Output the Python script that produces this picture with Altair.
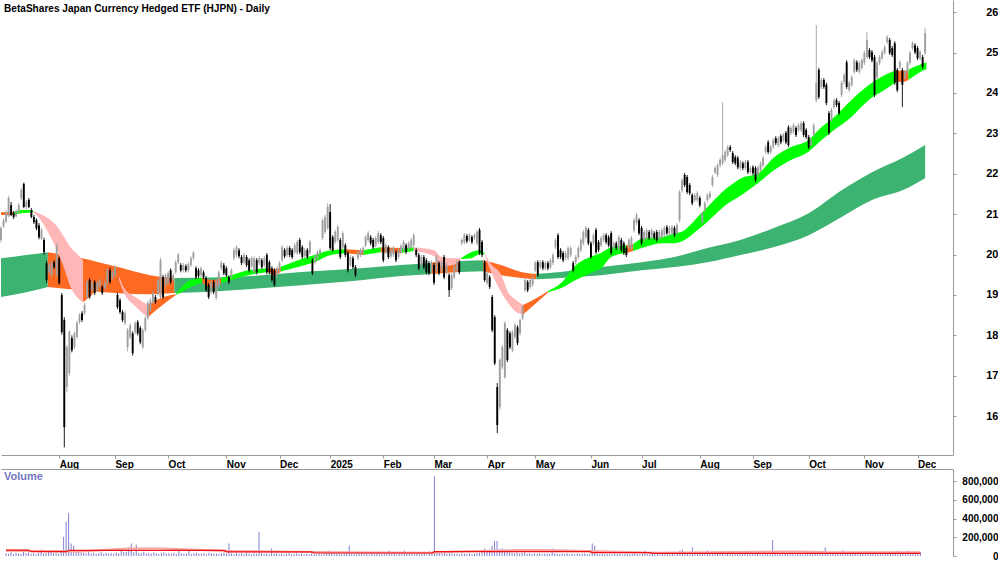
import json
import altair as alt
import pandas as pd

title_text = "BetaShares Japan Currency Hedged ETF (HJPN) - Daily"

month_idx = [23, 45, 66, 89, 110, 130, 151, 171, 192, 211, 233, 253, 276, 297, 319, 341, 362]
month_lbl = ["Aug", "Sep", "Oct", "Nov", "Dec", "2025", "Feb", "Mar", "Apr", "May", "Jun",
             "Jul", "Aug", "Sep", "Oct", "Nov", "Dec"]
price_ticks = [16, 17, 18, 19, 20, 21, 22, 23, 24, 25, 26]
vol_ticks = [0, 200000, 400000, 600000, 800000]

opens = [
    20.36, 20.70, 20.82, 20.95, 21.22, 21.02, 20.95, 21.05, 21.40, 21.75,
    21.18, 21.35, 21.10, 20.93, 20.85, 20.72, 20.40, 20.36, 19.79, 19.57,
    19.49, 19.81, 19.49, 19.91, 19.00, 18.38, 16.72, 17.07, 17.93, 17.71,
    17.96, 18.33, 18.55, 18.55, 18.95, 19.37, 19.12, 19.32, 19.12, 19.22,
    19.20, 19.17, 19.30, 19.61, 19.42, 19.49, 19.00, 18.87, 18.58, 18.30,
    17.71, 17.96, 18.05, 18.08, 18.33, 18.18, 17.71, 18.13, 18.43, 18.62,
    18.83, 18.95, 19.05, 18.95, 19.44, 19.25, 19.30, 19.61, 19.37, 19.57,
    19.81, 19.74, 19.61, 19.71, 19.61, 19.74, 19.91, 19.66, 19.61, 19.49,
    19.56, 19.42, 19.25, 19.07, 19.32, 18.93, 19.20, 19.66, 19.74, 19.66,
    19.44, 19.44, 19.91, 19.99, 20.11, 19.94, 19.81, 19.94, 19.86, 19.71,
    19.56, 19.86, 19.79, 19.86, 19.74, 19.99, 19.81, 19.66, 19.61, 19.49,
    19.61, 19.86, 20.11, 19.99, 20.16, 20.11, 20.06, 20.04, 20.36, 20.18,
    19.96, 20.11, 20.04, 19.86, 19.81, 19.91, 20.04, 20.41, 20.56, 20.66,
    21.05, 20.43, 20.31, 20.36, 20.36, 20.18, 20.23, 20.04, 19.74, 19.91,
    19.69, 19.91, 19.99, 20.06, 20.23, 20.36, 20.43, 20.36, 20.23, 20.31,
    20.48, 20.41, 20.06, 20.18, 19.96, 19.99, 20.06, 19.94, 20.06, 20.11,
    20.23, 20.16, 20.18, 20.23, 20.11, 19.99, 19.74, 19.94, 19.86, 19.79,
    19.61, 19.74, 19.61, 19.79, 19.61, 19.94, 19.56, 19.49, 19.17, 19.44,
    19.61, 19.81, 20.28, 20.31, 20.46, 20.36, 20.43, 20.41, 20.28, 20.61,
    20.31, 19.81, 19.30, 19.44, 18.95, 18.45, 16.72, 16.22, 17.21, 16.97,
    18.13, 18.05, 17.63, 17.96, 18.20, 18.05, 18.43, 19.12, 19.32, 19.20,
    19.25, 19.61, 19.81, 19.69, 19.81, 19.66, 19.79, 19.69, 19.79, 20.18,
    20.48, 20.11, 20.04, 19.91, 19.91, 19.99, 19.79, 19.81, 19.94, 20.11,
    20.28, 20.43, 20.61, 20.28, 20.28, 20.61, 20.31, 20.23, 20.36, 20.48,
    20.43, 20.53, 20.16, 20.28, 20.16, 20.36, 20.28, 20.16, 20.18, 20.16,
    20.60, 20.78, 20.85, 20.66, 20.36, 20.41, 20.56, 20.43, 20.53, 20.56,
    20.41, 20.43, 20.48, 20.68, 20.51, 20.53, 20.66, 20.53, 20.85, 21.59,
    21.97, 21.92, 21.72, 21.47, 21.35, 21.35, 21.40, 20.80, 21.10, 21.35,
    21.42, 21.72, 22.04, 21.97, 22.21, 22.26, 22.34, 22.46, 22.66, 22.51,
    22.41, 22.39, 22.14, 22.26, 22.14, 22.29, 22.04, 22.16, 22.14, 21.97,
    22.09, 22.21, 22.54, 22.78, 22.54, 22.66, 22.88, 22.71, 22.93, 22.83,
    23.01, 23.15, 23.01, 23.03, 23.13, 23.08, 23.08, 23.25, 23.08, 22.91,
    22.71, 22.96, 23.82, 24.57, 24.15, 24.32, 24.20, 23.50, 23.33, 23.65,
    23.82, 23.75, 23.95, 24.27, 24.76, 24.07, 24.20, 24.52, 24.76, 24.52,
    24.62, 24.74, 24.89, 25.06, 25.01, 24.89, 24.39, 24.74, 24.86, 24.99,
    25.26, 25.31, 25.11, 25.23, 24.57, 24.64, 24.57, 24.37, 24.52, 24.74,
    25.11, 25.18, 25.11, 24.86, 24.89, 24.99,
]
highs = [
    20.70, 20.90, 21.10, 21.45, 21.30, 21.08, 21.12, 21.28, 21.65, 21.78,
    21.35, 21.40, 21.15, 20.98, 20.90, 20.78, 20.66, 20.42, 19.85, 19.80,
    19.85, 19.86, 20.28, 19.95, 19.05, 18.45, 17.76, 18.13, 18.00, 18.10,
    18.36, 18.55, 18.60, 18.80, 19.37, 19.42, 19.35, 19.37, 19.35, 19.40,
    19.25, 19.35, 19.66, 19.68, 19.62, 19.74, 19.05, 18.92, 18.63, 18.60,
    18.18, 18.30, 18.10, 18.35, 18.38, 18.23, 18.18, 18.48, 18.85, 18.92,
    19.10, 19.00, 19.42, 19.92, 19.50, 19.54, 19.59, 19.66, 19.54, 19.86,
    20.04, 19.79, 19.79, 19.76, 19.81, 19.96, 20.09, 19.71, 19.66, 19.71,
    19.61, 19.47, 19.30, 19.35, 19.37, 19.37, 19.61, 19.84, 19.79, 19.71,
    19.49, 19.66, 20.16, 20.23, 20.16, 19.99, 20.04, 19.99, 19.91, 19.96,
    19.96, 19.91, 19.96, 19.91, 19.96, 20.04, 19.86, 19.71, 19.66, 19.71,
    19.84, 20.23, 20.16, 20.21, 20.21, 20.16, 20.28, 20.36, 20.41, 20.23,
    20.16, 20.16, 20.36, 19.91, 19.99, 20.11, 20.16, 20.90, 20.98, 21.27,
    21.25, 20.48, 20.61, 20.73, 20.41, 20.58, 20.28, 20.09, 19.99, 19.96,
    19.74, 20.11, 20.16, 20.21, 20.48, 20.58, 20.48, 20.41, 20.46, 20.58,
    20.53, 20.46, 20.28, 20.23, 20.16, 20.21, 20.11, 20.16, 20.26, 20.36,
    20.28, 20.33, 20.41, 20.53, 20.16, 20.04, 19.99, 19.99, 19.91, 19.84,
    19.86, 19.79, 19.99, 19.84, 19.86, 19.99, 19.79, 19.54, 19.54, 19.74,
    19.86, 19.86, 20.41, 20.53, 20.51, 20.53, 20.48, 20.53, 20.61, 20.66,
    20.36, 19.86, 19.59, 19.49, 19.00, 18.50, 16.82, 17.44, 17.76, 18.35,
    18.18, 18.10, 18.13, 18.30, 18.25, 18.43, 18.75, 19.42, 19.37, 19.42,
    19.49, 19.84, 19.86, 19.86, 19.86, 19.84, 19.84, 19.91, 20.04, 20.41,
    20.53, 20.16, 20.09, 20.09, 20.21, 20.21, 19.84, 19.99, 20.21, 20.41,
    20.61, 20.71, 20.66, 20.33, 20.53, 20.66, 20.36, 20.46, 20.53, 20.53,
    20.48, 20.58, 20.33, 20.33, 20.48, 20.41, 20.33, 20.21, 20.41, 20.46,
    20.90, 21.03, 20.90, 20.71, 20.61, 20.65, 20.61, 20.65, 20.58, 20.61,
    20.61, 20.65, 20.71, 20.73, 20.71, 20.73, 20.71, 20.78, 21.60, 21.89,
    22.02, 21.97, 21.77, 21.52, 21.52, 21.57, 21.45, 21.07, 21.32, 21.52,
    21.57, 21.97, 22.19, 22.26, 22.39, 23.77, 22.59, 22.71, 22.71, 22.56,
    22.46, 22.44, 22.34, 22.31, 22.34, 22.34, 22.19, 22.21, 22.19, 22.21,
    22.31, 22.44, 22.71, 22.83, 22.71, 22.88, 22.93, 22.93, 22.98, 23.01,
    23.06, 23.20, 23.18, 23.25, 23.18, 23.25, 23.30, 23.30, 23.13, 22.96,
    22.88, 23.25, 25.68, 24.62, 24.37, 24.37, 24.25, 23.55, 23.63, 23.87,
    23.87, 23.80, 24.30, 24.49, 24.81, 24.30, 24.44, 24.86, 24.81, 24.79,
    24.86, 25.04, 25.51, 25.11, 25.06, 24.94, 24.79, 24.94, 25.06, 25.18,
    25.43, 25.36, 25.16, 25.28, 24.62, 24.81, 24.62, 24.57, 24.79, 25.04,
    25.28, 25.23, 25.16, 25.06, 24.94, 25.60,
]
lows = [
    20.30, 20.66, 20.78, 20.92, 20.95, 20.88, 20.92, 21.02, 21.35, 21.15,
    21.12, 21.15, 20.90, 20.76, 20.60, 20.38, 20.36, 20.00, 19.30, 19.52,
    19.44, 19.64, 19.45, 19.25, 18.02, 15.23, 16.60, 17.00, 17.58, 17.66,
    17.92, 18.28, 18.33, 18.50, 18.90, 18.90, 19.07, 19.00, 19.08, 19.18,
    19.00, 19.12, 19.25, 19.28, 19.38, 19.44, 18.65, 18.53, 18.33, 18.26,
    17.60, 17.90, 17.50, 18.03, 18.00, 17.78, 17.66, 18.08, 18.38, 18.58,
    18.78, 18.78, 19.00, 18.90, 18.90, 19.20, 19.25, 19.27, 19.32, 19.52,
    19.76, 19.56, 19.56, 19.56, 19.56, 19.69, 19.86, 19.39, 19.42, 19.44,
    19.39, 19.07, 18.90, 19.02, 19.02, 18.88, 19.15, 19.61, 19.49, 19.44,
    19.27, 19.39, 19.86, 19.94, 19.91, 19.74, 19.76, 19.69, 19.56, 19.66,
    19.51, 19.51, 19.74, 19.64, 19.69, 19.51, 19.51, 19.32, 19.20, 19.44,
    19.56, 19.81, 19.91, 19.94, 19.94, 19.89, 20.01, 19.99, 20.01, 19.89,
    19.91, 19.89, 19.99, 19.49, 19.76, 19.86, 19.99, 20.36, 20.51, 20.61,
    20.11, 20.06, 20.26, 20.31, 19.89, 20.13, 19.94, 19.56, 19.69, 19.64,
    19.44, 19.86, 19.94, 20.01, 20.18, 20.31, 20.23, 20.13, 20.18, 20.26,
    20.26, 19.81, 20.01, 19.89, 19.91, 19.94, 19.81, 19.89, 20.01, 20.06,
    20.01, 20.11, 20.13, 20.18, 19.94, 19.61, 19.69, 19.64, 19.51, 19.49,
    19.56, 19.25, 19.56, 19.49, 19.56, 19.39, 19.51, 18.95, 19.12, 19.39,
    19.56, 19.51, 20.23, 20.26, 20.28, 20.31, 20.26, 20.36, 20.23, 19.99,
    19.94, 19.32, 19.25, 19.15, 18.08, 17.26, 15.58, 16.15, 17.16, 16.92,
    17.34, 17.66, 17.58, 17.91, 17.76, 18.00, 18.38, 19.07, 19.07, 19.15,
    19.20, 19.56, 19.44, 19.64, 19.61, 19.61, 19.61, 19.64, 19.74, 20.13,
    19.89, 19.89, 19.81, 19.86, 19.86, 19.94, 19.56, 19.76, 19.89, 20.06,
    20.23, 20.38, 20.23, 19.89, 20.23, 20.01, 20.06, 20.18, 20.31, 20.26,
    20.18, 19.99, 20.11, 20.11, 20.11, 20.06, 19.99, 19.94, 20.13, 20.11,
    20.55, 20.73, 20.48, 20.23, 20.31, 20.36, 20.36, 20.38, 20.36, 20.31,
    20.36, 20.38, 20.43, 20.48, 20.46, 20.48, 20.43, 20.48, 20.80, 21.54,
    21.67, 21.50, 21.47, 21.22, 21.30, 21.30, 21.17, 20.75, 21.05, 21.30,
    21.37, 21.67, 21.99, 21.92, 22.16, 22.21, 22.29, 22.41, 22.54, 22.24,
    22.21, 22.11, 22.09, 22.09, 22.09, 21.99, 21.99, 21.96, 21.79, 21.92,
    22.04, 22.16, 22.49, 22.49, 22.49, 22.61, 22.71, 22.66, 22.73, 22.78,
    22.73, 22.66, 22.96, 22.98, 22.91, 23.03, 23.03, 22.91, 22.86, 22.61,
    22.66, 22.91, 23.77, 23.85, 24.10, 24.10, 23.70, 22.96, 23.28, 23.60,
    23.65, 23.45, 23.90, 24.22, 24.10, 24.02, 24.15, 24.47, 24.52, 24.47,
    24.57, 24.69, 24.84, 24.84, 24.76, 23.90, 24.34, 24.69, 24.81, 24.94,
    25.21, 24.94, 24.89, 24.20, 24.02, 24.59, 23.65, 24.32, 24.47, 24.69,
    25.06, 24.96, 24.81, 24.81, 24.59, 24.94,
]
closes = [
    20.66, 20.85, 21.05, 21.40, 20.98, 20.93, 21.08, 21.22, 21.60, 21.18,
    21.30, 21.18, 20.93, 20.80, 20.65, 20.43, 20.60, 20.06, 19.37, 19.74,
    19.79, 19.69, 20.23, 19.30, 18.08, 15.73, 17.71, 18.08, 17.63, 18.05,
    18.30, 18.50, 18.38, 18.75, 19.32, 18.95, 19.30, 19.05, 19.30, 19.35,
    19.05, 19.30, 19.61, 19.32, 19.56, 19.69, 18.70, 18.58, 18.38, 18.55,
    18.13, 18.25, 17.56, 18.30, 18.05, 17.83, 18.13, 18.43, 18.80, 18.87,
    19.05, 18.83, 19.37, 19.86, 18.95, 19.49, 19.54, 19.32, 19.49, 19.81,
    19.99, 19.61, 19.74, 19.61, 19.76, 19.91, 20.04, 19.44, 19.47, 19.66,
    19.44, 19.12, 18.95, 19.30, 19.07, 19.32, 19.56, 19.79, 19.54, 19.49,
    19.32, 19.61, 20.11, 20.18, 19.96, 19.79, 19.99, 19.74, 19.61, 19.91,
    19.91, 19.56, 19.91, 19.69, 19.91, 19.56, 19.56, 19.37, 19.25, 19.66,
    19.79, 20.18, 19.96, 20.16, 19.99, 19.94, 20.23, 20.31, 20.06, 19.94,
    20.11, 19.94, 20.31, 19.54, 19.94, 20.06, 20.11, 20.85, 20.93, 21.18,
    20.16, 20.11, 20.56, 20.68, 19.94, 20.53, 19.99, 19.61, 19.94, 19.69,
    19.49, 20.06, 20.11, 20.16, 20.43, 20.53, 20.28, 20.18, 20.41, 20.53,
    20.31, 19.86, 20.23, 19.94, 20.11, 20.16, 19.86, 20.11, 20.21, 20.31,
    20.06, 20.28, 20.36, 20.48, 19.99, 19.66, 19.94, 19.69, 19.56, 19.54,
    19.81, 19.30, 19.94, 19.54, 19.81, 19.44, 19.74, 19.12, 19.49, 19.69,
    19.81, 19.56, 20.36, 20.48, 20.33, 20.48, 20.31, 20.48, 20.56, 20.04,
    19.99, 19.37, 19.54, 19.20, 18.13, 17.31, 15.78, 17.39, 17.71, 18.30,
    17.39, 17.71, 18.08, 18.25, 17.81, 18.38, 18.70, 19.37, 19.12, 19.37,
    19.44, 19.79, 19.49, 19.81, 19.66, 19.79, 19.66, 19.86, 19.99, 20.36,
    19.94, 19.94, 19.86, 20.04, 20.16, 20.16, 19.61, 19.94, 20.16, 20.36,
    20.56, 20.66, 20.28, 19.94, 20.48, 20.06, 20.11, 20.41, 20.48, 20.31,
    20.23, 20.04, 20.28, 20.16, 20.43, 20.11, 20.04, 19.99, 20.36, 20.41,
    20.85, 20.98, 20.53, 20.28, 20.56, 20.60, 20.41, 20.60, 20.41, 20.36,
    20.56, 20.60, 20.66, 20.53, 20.66, 20.68, 20.48, 20.73, 21.55, 21.84,
    21.72, 21.55, 21.52, 21.27, 21.47, 21.52, 21.22, 21.02, 21.27, 21.47,
    21.52, 21.92, 22.14, 22.21, 22.34, 22.46, 22.54, 22.66, 22.59, 22.29,
    22.26, 22.16, 22.29, 22.14, 22.29, 22.04, 22.14, 22.01, 21.84, 22.16,
    22.26, 22.39, 22.66, 22.54, 22.66, 22.83, 22.76, 22.88, 22.78, 22.96,
    22.78, 22.71, 23.13, 23.20, 22.96, 23.20, 23.25, 22.96, 22.91, 22.66,
    22.83, 23.20, 24.25, 23.90, 24.32, 24.15, 23.75, 23.01, 23.58, 23.82,
    23.70, 23.50, 24.25, 24.44, 24.15, 24.25, 24.39, 24.81, 24.57, 24.74,
    24.81, 24.99, 25.31, 24.89, 24.81, 23.95, 24.74, 24.89, 25.01, 25.13,
    25.38, 24.99, 24.94, 24.25, 24.07, 24.76, 24.20, 24.52, 24.74, 24.99,
    25.23, 25.01, 24.86, 25.01, 24.64, 25.48,
]
volume_k = [
    30, 25, 40, 20, 35, 28, 22, 45, 30, 38,
    25, 30, 20, 35, 70, 28, 32, 40, 45, 30,
    38, 25, 50, 207, 365, 460, 134, 113, 60, 45,
    40, 35, 30, 42, 28, 36, 25, 30, 40, 22,
    35, 28, 30, 25, 38, 30, 55, 40, 45, 90,
    134, 40, 123, 35, 30, 45, 28, 32, 25, 38,
    30, 22, 35, 40, 28, 30, 25, 36, 20, 70,
    30, 25, 28, 70, 22, 30, 35, 25, 28, 32,
    20, 35, 30, 25, 28, 22, 30, 38, 25, 134,
    28, 20, 32, 25, 30, 22, 35, 28, 20, 30,
    25, 260, 30, 22, 28, 20, 81, 25, 30, 22,
    28, 20, 25, 32, 18, 25, 30, 22, 28, 20,
    25, 18, 30, 22, 20, 25, 18, 28, 35, 60,
    40, 30, 25, 28, 20, 25, 30, 113, 25, 20,
    28, 22, 30, 20, 25, 18, 28, 22, 30, 25,
    20, 28, 25, 60, 22, 30, 20, 25, 28, 60,
    22, 30, 25, 20, 28, 22, 25, 30, 20, 50,
    25, 853, 40, 30, 28, 35, 25, 40, 30, 22,
    28, 20, 30, 25, 22, 28, 20, 25, 30, 35,
    40, 80, 45, 50, 113, 160, 160, 70, 80, 55,
    45, 40, 35, 30, 38, 28, 32, 40, 25, 30,
    22, 28, 25, 30, 20, 25, 28, 22, 80, 30,
    25, 20, 28, 22, 30, 18, 25, 20, 28, 22,
    25, 30, 20, 28, 134, 113, 25, 20, 28, 22,
    18, 25, 20, 28, 22, 25, 18, 22, 28, 20,
    25, 30, 22, 20, 25, 60, 18, 22, 25, 20,
    22, 18, 25, 20, 22, 18, 25, 20, 28, 60,
    70, 30, 25, 28, 90, 22, 25, 30, 20, 22,
    60, 25, 20, 28, 22, 45, 25, 20, 22, 28,
    20, 18, 25, 22, 20, 25, 18, 22, 20, 25,
    22, 18, 20, 25, 22, 18, 172, 25, 20, 22,
    18, 25, 20, 22, 18, 20, 25, 22, 20, 28,
    22, 25, 45, 40, 30, 28, 35, 90, 30, 25,
    28, 22, 30, 25, 60, 28, 25, 30, 22, 28,
    25, 30, 40, 28, 25, 45, 30, 28, 25, 22,
    30, 28, 25, 35, 40, 28, 55, 30, 25, 28,
    55, 30, 28, 35, 25, 40,
]

# volume moving averages (thousands)
vma_idx = [0, 9, 10, 24, 25, 87, 88, 122, 123, 170, 171, 233, 234, 257, 258, 365]
vma_val = [63, 63, 46, 46, 60, 60, 44, 44, 32, 32, 46, 46, 36, 36, 28, 28]
vma2_idx = [0, 30, 49, 62, 90, 130, 170, 180, 204, 212, 221, 260, 311, 316, 329, 365]
vma2_val = [58, 50, 80, 80, 52, 40, 34, 48, 63, 63, 60, 35, 46, 46, 39, 39]

# long-term band (segments of points, colour per segment)
long_counts = [3, 5, 7, 3, 2, 4, 13]
long_colors = ["#3cb371", "#ff6a22", "#3cb371", "#ff6a22", "#3cb371", "#ff6a22", "#3cb371"]
long_idx = [0, 10, 18.5,
            18.5, 32, 45, 59, 68.5,
            68.5, 87, 99, 118.5, 138, 158, 170,
            170, 174, 181,
            181, 190.5,
            190.5, 197.5, 205.5, 211.4,
            211.4, 221, 237, 253, 266, 279, 292, 305, 319, 332, 344, 356, 365]
long_hi = [19.91, 19.99, 20.06,
           20.06, 19.91, 19.71, 19.49, 19.42,
           19.42, 19.44, 19.47, 19.57, 19.64, 19.74, 19.79,
           19.79, 19.84, 19.84,
           19.84, 19.86,
           19.86, 19.74, 19.57, 19.52,
           19.52, 19.57, 19.69, 19.81, 19.94, 20.16, 20.36, 20.65, 21.02, 21.59, 22.04, 22.39, 22.71]
long_lo = [18.95, 19.07, 19.20,
           19.20, 19.12, 19.05, 19.02, 19.05,
           19.05, 19.10, 19.15, 19.24, 19.34, 19.47, 19.52,
           19.52, 19.54, 19.57,
           19.57, 19.59,
           19.59, 19.49, 19.42, 19.39,
           19.39, 19.42, 19.49, 19.61, 19.69, 19.81, 19.99, 20.18, 20.48, 20.93, 21.35, 21.59, 21.89]

# short-term band
G, O, P = "#00ff00", "#ff6a22", "#ffb6b6"
short_counts = [2, 3, 8, 5, 4, 4, 3, 3, 4, 3, 5, 2, 2, 2, 2, 5, 4, 6, 3, 7, 2, 18, 3, 4]
short_colors = [O, G, P, O, P, O, G, O, G, O, G, O, G, O, G, P, G, P, O, G, O, G, O, G]
short_idx = [0, 5,
             5, 8, 12.6,
             12.6, 15.8, 18.6, 21.7, 24.5, 27.7, 30.4, 32.4,
             32.4, 35.6, 39.5, 43.5, 46.6,
             46.6, 48.6, 53, 58,
             58, 61.2, 65.2, 69.1,
             69.1, 75, 79.5,
             79.5, 83.8, 87,
             87, 91, 97.6, 105.5,
             105.5, 108, 110.5,
             110.5, 117.3, 123.7, 130.4, 136.3,
             136.3, 143,
             143, 150,
             150, 158,
             158, 163,
             163, 171, 174, 178.6, 181.7,
             181.7, 185.7, 189, 191,
             191, 193, 197.6, 200.3, 203, 206.2,
             206.2, 211.4, 216.1,
             216.1, 221.3, 226.4, 233.1, 237, 241, 247,
             247, 249.7,
             249.7, 254, 260.8, 266, 268.3, 276.6, 287.2, 292.4, 299, 305.4, 312, 318.8, 324, 329,
             335.8, 342.6, 348.9, 353.6,
             353.6, 356, 358.4,
             358.4, 359.5, 364.7, 365.5]
short_hi = [21.05, 21.05,
            21.05, 21.10, 21.10,
            21.08, 21.00, 20.90, 20.73, 20.48, 20.16, 19.99, 19.86,
            19.86, 19.74, 19.61, 19.54, 19.47,
            19.47, 19.17, 18.95, 18.75,
            18.75, 18.87, 18.97, 19.02,
            19.02, 19.37, 19.42,
            19.42, 19.37, 19.42,
            19.42, 19.49, 19.61, 19.66,
            19.66, 19.64, 19.70,
            19.70, 19.86, 19.99, 20.11, 20.13,
            20.13, 20.11,
            20.11, 20.18,
            20.18, 20.16,
            20.16, 20.18,
            20.18, 20.11, 19.94, 19.91, 19.91,
            19.91, 20.06, 20.11, 20.04,
            20.04, 19.81, 19.49, 19.07, 18.90, 18.75,
            18.75, 18.92, 19.10,
            19.10, 19.30, 19.70, 19.95, 20.04, 20.18, 20.23,
            20.23, 20.26,
            20.26, 20.41, 20.43, 20.53, 20.55, 21.02, 21.67, 21.89, 22.01, 22.41, 22.66, 22.83, 23.15, 23.40,
            23.82, 24.19, 24.44, 24.57,
            24.57, 24.54, 24.57,
            24.57, 24.61, 24.74, 24.76]
short_lo = [20.98, 20.98,
            20.98, 21.02, 21.05,
            21.05, 20.85, 20.55, 20.16, 19.74, 19.17, 18.92, 18.82,
            18.82, 18.99, 19.24, 19.39, 19.37,
            19.37, 19.05, 18.72, 18.45,
            18.45, 18.62, 18.82, 19.00,
            19.00, 19.20, 19.30,
            19.30, 19.17, 19.30,
            19.30, 19.37, 19.49, 19.57,
            19.57, 19.48, 19.58,
            19.58, 19.69, 19.81, 19.99, 20.03,
            20.03, 19.99,
            19.99, 20.06,
            20.06, 20.04,
            20.04, 20.09,
            20.09, 19.96, 19.71, 19.74, 19.89,
            19.89, 19.91, 20.01, 20.01,
            20.01, 19.66, 19.07, 18.80, 18.60, 18.52,
            18.52, 18.80, 19.07,
            19.07, 19.17, 19.35, 19.55, 19.66, 19.94, 20.04,
            20.04, 20.09,
            20.09, 20.18, 20.28, 20.28, 20.31, 20.68, 21.27, 21.47, 21.77, 22.09, 22.34, 22.54, 22.83, 23.08,
            23.40, 23.82, 24.07, 24.27,
            24.27, 24.27, 24.32,
            24.32, 24.37, 24.57, 24.59]


def band_frame(counts, colors, idx, hi, lo):
    seg, col = [], []
    for k, (n, c) in enumerate(zip(counts, colors)):
        seg += [k] * n
        col += [c] * n
    return pd.DataFrame({"i": idx, "hi": hi, "lo": lo, "seg": seg, "col": col})


long_df = band_frame(long_counts, long_colors, long_idx, long_hi, long_lo)
short_df = band_frame(short_counts, short_colors, short_idx, short_hi, short_lo)

n = len(closes)
candles = pd.DataFrame({"i": list(range(n)), "o": opens, "h": highs, "l": lows, "c": closes})
candles["dir"] = ["up" if c >= o else "down" for o, c in zip(opens, closes)]
vol_df = pd.DataFrame({"i": list(range(n)), "v": [v * 1000 for v in volume_k]})
vma_df = pd.DataFrame({"i": vma_idx, "v": [v * 1000 for v in vma_val]})
vma2_df = pd.DataFrame({"i": vma2_idx, "v": [v * 1000 for v in vma2_val]})

FONT = "Liberation Sans"
label_expr = "%s[indexof(%s, datum.value)]" % (json.dumps(month_lbl), json.dumps(month_idx))

xscale = alt.Scale(domain=[0, 376], nice=False, zero=False)
xaxis = alt.Axis(values=month_idx, labelExpr=label_expr, orient="bottom", grid=False,
                 domainColor="#9a9a9a", tickColor="#9a9a9a", tickSize=3, labelAlign="left",
                 labelBaseline="top", labelPadding=1, labelFontSize=10, labelFontWeight="bold",
                 labelColor="#000000", labelFont=FONT, labelFlush=False, labelOverlap=False,
                 title=None)
yscale = alt.Scale(domain=[15.04, 26.30], nice=False, zero=False)
yaxis = alt.Axis(values=price_ticks, orient="right", grid=False, domainColor="#9a9a9a",
                 tickColor="#9a9a9a", tickSize=3, labelAlign="right", labelPadding=42,
                 labelFontSize=11, labelFontWeight="bold", labelColor="#000000", labelFont=FONT,
                 title=None)

X = alt.X("i:Q", scale=xscale, axis=xaxis)

long_area = alt.Chart(long_df).mark_area(interpolate="monotone").encode(
    x=X, y=alt.Y("hi:Q", scale=yscale, axis=yaxis), y2="lo:Q",
    color=alt.Color("col:N", scale=None), detail="seg:N")
short_area = alt.Chart(short_df).mark_area(interpolate="monotone").encode(
    x=X, y=alt.Y("hi:Q", scale=yscale, axis=yaxis), y2="lo:Q",
    color=alt.Color("col:N", scale=None), detail="seg:N")

cscale = alt.Scale(domain=["up", "down"], range=["#a0a0a0", "#000000"])
wicks = alt.Chart(candles).mark_rule(strokeWidth=0.9).encode(
    x=X, y=alt.Y("l:Q", scale=yscale, axis=yaxis), y2="h:Q",
    color=alt.Color("dir:N", scale=cscale, legend=None))
bodies = alt.Chart(candles).mark_rule(strokeWidth=1.9).encode(
    x=X, y=alt.Y("o:Q", scale=yscale, axis=yaxis), y2="c:Q",
    color=alt.Color("dir:N", scale=cscale, legend=None))

title_mark = alt.Chart(pd.DataFrame({"t": [title_text]})).mark_text(
    align="left", baseline="middle", font=FONT, fontSize=10.1, fontWeight="bold", color="#000000"
).encode(x=alt.value(3), y=alt.value(9), text="t:N")

price = alt.layer(long_area, short_area, wicks, bodies, title_mark).properties(width=952, height=455)

vx = alt.X("i:Q", scale=xscale, axis=alt.Axis(orient="top", labels=False, ticks=False, grid=False,
                                              domainColor="#9a9a9a", title=None))
vscale = alt.Scale(domain=[0, 930000], nice=False)
vaxis = alt.Axis(values=vol_ticks, format=",.0f", orient="right", grid=False, domainColor="#9a9a9a",
                 tickColor="#9a9a9a", tickSize=3, labelAlign="right", labelPadding=42,
                 labelFontSize=10, labelFontWeight="bold", labelColor="#000000", labelFont=FONT,
                 title=None)
vbars = alt.Chart(vol_df).mark_bar(size=1, color="#7f82d4").encode(
    x=vx, y=alt.Y("v:Q", scale=vscale, axis=vaxis))
vma2 = alt.Chart(vma2_df).mark_line(color="#f5a3a3", strokeWidth=2.2).encode(
    x=vx, y=alt.Y("v:Q", scale=vscale, axis=vaxis))
vma = alt.Chart(vma_df).mark_line(color="#ee1111", strokeWidth=1.2).encode(
    x=vx, y=alt.Y("v:Q", scale=vscale, axis=vaxis))
vtitle = alt.Chart(pd.DataFrame({"t": ["Volume"]})).mark_text(
    align="left", baseline="middle", font=FONT, fontSize=11, fontWeight="bold", color="#7676bf"
).encode(x=alt.value(3), y=alt.value(8), text="t:N")

volume = alt.layer(vbars, vma2, vma, vtitle).properties(width=952, height=87)

chart = alt.vconcat(price, volume, spacing=0).properties(
    padding={"left": 0, "top": 0, "right": 0, "bottom": 0}, background="#ffffff"
).configure_view(strokeWidth=0)

chart.save("out.html", embed_options={"renderer": "svg", "actions": False})
